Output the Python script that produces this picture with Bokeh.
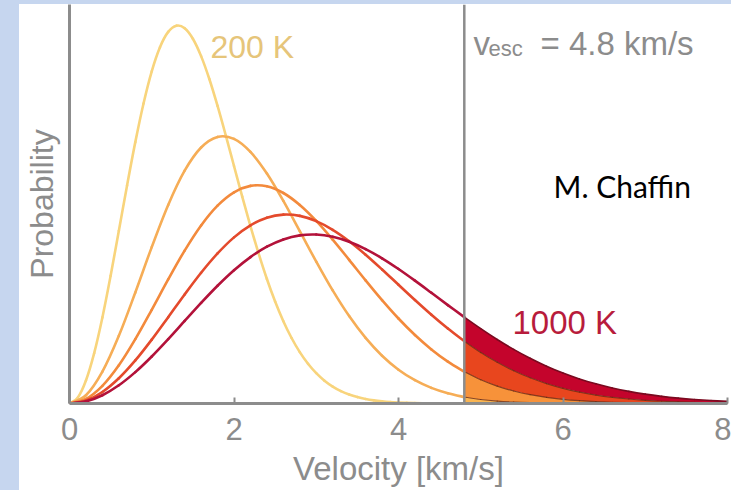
from bokeh.plotting import figure
from bokeh.models import Span, Label, FixedTicker, Spacer
from bokeh.layouts import row, column
from bokeh.embed import file_html
from bokeh.resources import INLINE

# ---- data (relative probability, 200 K peak = 1) ----
v_fine = [0.0, 0.1, 0.2, 0.3, 0.4, 0.5, 0.6, 0.7, 0.8, 0.9, 1.0, 1.1, 1.2, 1.3, 1.4,
          1.5, 1.6, 1.7, 1.8, 1.9, 2.0, 2.1, 2.2, 2.3, 2.4, 2.5, 2.6, 2.7, 2.8, 2.9,
          3.0, 3.1, 3.2, 3.3, 3.4, 3.5, 3.6, 3.7, 3.8, 3.9, 4.0, 4.1, 4.2, 4.3, 4.4,
          4.5, 4.6, 4.7, 4.8]
p200 = [0.0, 0.0155, 0.0610, 0.1333, 0.2277, 0.3379, 0.4568, 0.5770, 0.6915, 0.7938,
        0.8789, 0.9426, 0.9831, 0.9996, 0.9928, 0.9650, 0.9190, 0.8585, 0.7873, 0.7094,
        0.6284, 0.5475, 0.4695, 0.3965, 0.3295, 0.2698, 0.2178, 0.1733, 0.1359, 0.1051,
        0.0802, 0.0603, 0.0448, 0.0328, 0.0237, 0.0169, 0.0119, 0.0083, 0.0057, 0.0038,
        0.0026, 0.0017, 0.0011, 0.0007, 0.0004, 0.0003, 0.0002, 0.0001, 0.0001]

v = [0.0, 0.2, 0.4, 0.6, 0.8, 1.0, 1.2, 1.4, 1.6, 1.8, 2.0, 2.2, 2.4, 2.6, 2.8, 3.0,
     3.2, 3.4, 3.6, 3.8, 4.0, 4.2, 4.4, 4.6, 4.8, 5.0, 5.2, 5.4, 5.6, 5.8, 6.0, 6.2,
     6.4, 6.6, 6.8, 7.0, 7.2, 7.4, 7.6, 7.8, 8.0]
p400 = [0.0, 0.0218, 0.0843, 0.1790, 0.2937, 0.4138, 0.5253, 0.6159, 0.6772, 0.7052,
        0.7001, 0.6656, 0.6084, 0.5360, 0.4560, 0.3754, 0.2991, 0.2312, 0.1735, 0.1264,
        0.0895, 0.0617, 0.0413, 0.0270, 0.0171, 0.0106, 0.0064, 0.0037, 0.0021, 0.0012,
        0.0006, 0.0003, 0.0002, 0.0001, 0.0, 0.0, 0.0, 0.0, 0.0, 0.0, 0.0]
p600 = [0.0, 0.0119, 0.0466, 0.1009, 0.1701, 0.2480, 0.3283, 0.4046, 0.4711, 0.5235,
        0.5588, 0.5757, 0.5746, 0.5569, 0.5252, 0.4830, 0.4335, 0.3801, 0.3259, 0.2736,
        0.2249, 0.1811, 0.1431, 0.1108, 0.0842, 0.0628, 0.0460, 0.0331, 0.0233, 0.0162,
        0.0110, 0.0074, 0.0049, 0.0031, 0.0020, 0.0012, 0.0008, 0.0005, 0.0003, 0.0002,
        0.0001]
p800 = [0.0, 0.0078, 0.0305, 0.0667, 0.1139, 0.1690, 0.2284, 0.2885, 0.3458, 0.3969,
        0.4395, 0.4713, 0.4916, 0.4998, 0.4964, 0.4825, 0.4595, 0.4293, 0.3937, 0.3547,
        0.3142, 0.2738, 0.2348, 0.1983, 0.1648, 0.1349, 0.1089, 0.0867, 0.0680, 0.0526,
        0.0401, 0.0302, 0.0224, 0.0164, 0.0119, 0.0085, 0.0060, 0.0042, 0.0029, 0.0019,
        0.0013]
p1000 = [0.0, 0.0056, 0.0219, 0.0482, 0.0830, 0.1244, 0.1703, 0.2183, 0.2662, 0.3116,
         0.3526, 0.3874, 0.4149, 0.4341, 0.4448, 0.4470, 0.4411, 0.4280, 0.4086, 0.3842,
         0.3559, 0.3250, 0.2928, 0.2603, 0.2284, 0.1980, 0.1694, 0.1432, 0.1197, 0.0988,
         0.0807, 0.0651, 0.0520, 0.0410, 0.0320, 0.0247, 0.0189, 0.0143, 0.0107, 0.0079,
         0.0058]

x_ticks = [0, 2, 4, 6, 8]
v_esc = 4.8
label_low = "200 K"
label_high = "1000 K"
esc_main = "v"
esc_sub = "esc"
esc_rest = "= 4.8 km/s"
credit = "M. Chaffin"

# ---- styling ----
GRAY = "#8c8c8c"
FONT = "Liberation Sans"
BLUE = "#c6d6ef"
line_colors = {"200": "#f8d47c", "400": "#f6ad56", "600": "#f38a3c",
               "800": "#e44a2c", "1000": "#b3123a"}

p = figure(frame_width=658, frame_height=399, x_range=(0, 8), y_range=(0, 1.0556),
           output_backend="svg", toolbar_location=None,
           min_border_left=50, min_border_right=4, min_border_top=0,
           min_border_bottom=87)
p.outline_line_color = None
p.grid.visible = False
p.background_fill_color = "white"
p.border_fill_color = "white"

# x axis
xa = p.xaxis[0]
xa.ticker = FixedTicker(ticks=x_ticks)
xa.axis_line_color = GRAY
xa.axis_line_width = 3
xa.major_tick_line_color = GRAY
xa.major_tick_line_width = 2
xa.major_tick_in = 6
xa.major_tick_out = 0
xa.minor_tick_line_color = None
xa.major_label_text_font = FONT
xa.major_label_text_font_size = "31px"
xa.major_label_text_color = GRAY
xa.major_label_standoff = 14
xa.axis_label = "Velocity [km/s]"
xa.axis_label_text_font = FONT
xa.axis_label_text_font_size = "33px"
xa.axis_label_text_font_style = "normal"
xa.axis_label_text_color = GRAY
xa.axis_label_standoff = 7

# y axis
ya = p.yaxis[0]
ya.ticker = FixedTicker(ticks=[])
ya.axis_line_color = GRAY
ya.axis_line_width = 3
ya.major_tick_in = 0
ya.major_tick_out = 0
ya.minor_tick_line_color = None
ya.major_label_standoff = 0
ya.axis_label = "Probability"
ya.axis_label_text_font = FONT
ya.axis_label_text_font_size = "32px"
ya.axis_label_text_font_style = "normal"
ya.axis_label_text_color = GRAY
ya.axis_label_standoff = 10


def curve(xs, ys, color, width, alpha=1.0):
    """Smooth (cubic Bezier) stroke passing through every read point."""
    n = len(xs)
    x0, y0, x1, y1, cx0, cy0, cx1, cy1 = [], [], [], [], [], [], [], []
    for i in range(n - 1):
        a = max(i - 1, 0)
        d = min(i + 2, n - 1)
        x0.append(xs[i]); y0.append(ys[i])
        x1.append(xs[i + 1]); y1.append(ys[i + 1])
        cx0.append(xs[i] + (xs[i + 1] - xs[a]) / 6.0)
        cy0.append(ys[i] + (ys[i + 1] - ys[a]) / 6.0)
        cx1.append(xs[i + 1] - (xs[d] - xs[i]) / 6.0)
        cy1.append(ys[i + 1] - (ys[d] - ys[i]) / 6.0)
    p.bezier(x0=x0, y0=y0, x1=x1, y1=y1, cx0=cx0, cy0=cy0, cx1=cx1, cy1=cy1,
             line_color=color, line_width=width, line_alpha=alpha,
             line_cap="round")


# escaping tails (v >= v_esc)
i0 = v.index(v_esc)
vt = v[i0:]
t400, t600, t800, t1000 = p400[i0:], p600[i0:], p800[i0:], p1000[i0:]
zeros = [0.0] * len(vt)
p.varea(x=vt, y1=zeros, y2=t400, fill_color="#f9b552")
p.varea(x=vt, y1=t400, y2=t600, fill_color="#f7923a")
p.varea(x=vt, y1=t600, y2=t800, fill_color="#e8461e")
p.varea(x=vt, y1=t800, y2=t1000, fill_color="#c4042c")
for t in (t400, t600, t800):
    curve(vt, t, "#6b2a12", 1.2, 0.8)
curve(vt, t1000, "#7a0a20", 1.6)

# curves below escape velocity
vb = v[:i0 + 1]
curve(v_fine, p200, line_colors["200"], 2.6)
curve(vb, p400[:i0 + 1], line_colors["400"], 2.6)
curve(vb, p600[:i0 + 1], line_colors["600"], 2.6)
curve(vb, p800[:i0 + 1], line_colors["800"], 2.6)
curve(vb, p1000[:i0 + 1], line_colors["1000"], 2.6)

# escape velocity line
p.add_layout(Span(location=v_esc, dimension="height", line_color=GRAY, line_width=2.5))


# texts
def add_text(x, y, text, size, color, font=FONT):
    p.add_layout(Label(x=x, y=y, text=text, text_font=font, text_font_size=size,
                       text_color=color, text_baseline="alphabetic",
                       text_align="left"))


add_text(1.714, 0.942, label_low, "32px", "#e6c57a")
add_text(5.386, 0.215, label_high, "33px", "#b81c3c")
add_text(4.912, 0.953, esc_main, "33px", GRAY)
add_text(5.094, 0.940, esc_sub, "22px", GRAY)
add_text(5.726, 0.953, esc_rest, "33px", GRAY)
add_text(5.885, 0.575, credit, "30px", "black", font="Lato")

top_strip = Spacer(width=731, height=4, styles={"background-color": BLUE})
left_strip = Spacer(width=19, height=486, styles={"background-color": BLUE})
layout = column(top_strip, row(left_strip, p))

open("out.html", "w").write(file_html(layout, INLINE))
